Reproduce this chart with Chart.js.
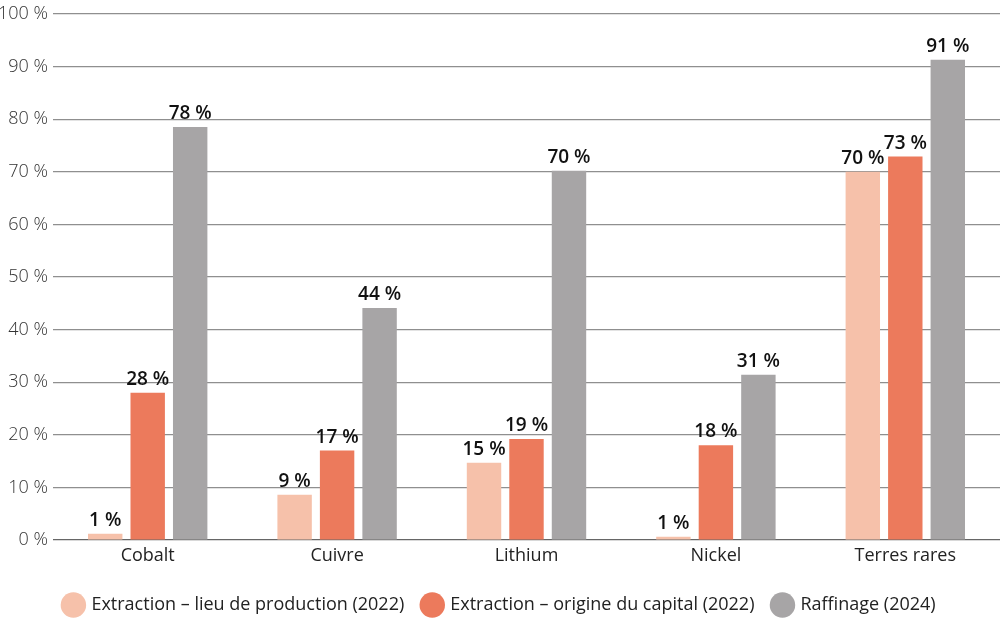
<!DOCTYPE html>
<html>
<head>
<meta charset="utf-8">
<script src="https://cdn.jsdelivr.net/npm/chart.js@4"></script>
<style>
    html, body { margin: 0; padding: 0; background: #fff; }
    #wrap { width: 1000px; height: 619px; }
</style>
</head>
<body>
<div id="wrap"><canvas id="chart"></canvas></div>
<script>
/* Part de la Chine par minerai : extraction (lieu / capital) et raffinage. */

const categories = ['Cobalt', 'Cuivre', 'Lithium', 'Nickel', 'Terres rares'];
const seriesNames = [
    'Extraction \u2013 lieu de production (2022)',
    'Extraction \u2013 origine du capital (2022)',
    'Raffinage (2024)'
];
const lieuProduction = [1.2, 8.6, 14.7, 0.6, 70];
const origineCapital = [28, 17, 19.2, 18, 72.9];
const raffinage = [78.5, 44.1, 70.2, 31.4, 91.3];
// labels as printed on the chart (rounded)
const lieuLabels = ['1', '9', '15', '1', '70'];
const capitalLabels = ['28', '17', '19', '18', '73'];
const raffinageLabels = ['78', '44', '70', '31', '91'];
const yTicks = [0, 10, 20, 30, 40, 50, 60, 70, 80, 90, 100];

const colors = ['#F6C1AA', '#EC7A5C', '#A7A5A6'];
const fontFamily = "'Open Sans', 'DejaVu Sans', sans-serif";

const valueLabels = {
    id: 'valueLabels',
    afterDatasetsDraw(chart) {
        const ctx = chart.ctx;
        ctx.save();
        ctx.font = `600 19px ${fontFamily}`;
        ctx.fillStyle = '#111';
        ctx.textAlign = 'center';
        ctx.textBaseline = 'alphabetic';
        chart.data.datasets.forEach((ds, i) => {
            chart.getDatasetMeta(i).data.forEach((bar, j) => {
                ctx.fillText(ds.labels[j] + ' %', bar.x, bar.y - 8);
            });
        });
        ctx.restore();
    }
};

new Chart(document.getElementById('chart'), {
    type: 'bar',
    data: {
        labels: categories,
        datasets: [
            { label: seriesNames[0], data: lieuProduction, labels: lieuLabels, backgroundColor: colors[0] },
            { label: seriesNames[1], data: origineCapital, labels: capitalLabels, backgroundColor: colors[1] },
            { label: seriesNames[2], data: raffinage, labels: raffinageLabels, backgroundColor: colors[2] }
        ]
    },
    options: {
        responsive: true,
        maintainAspectRatio: false,
        animation: false,
        layout: { padding: { top: 12, right: 0, left: 0, bottom: -5 } },
        datasets: { bar: { barPercentage: 0.81, categoryPercentage: 0.673, borderWidth: 0 } },
        scales: {
            x: {
                afterFit: s => { s.height = 37; },
                grid: { display: false, drawTicks: false },
                border: { display: false },
                ticks: { color: '#222', font: { family: fontFamily, size: 18 }, padding: 5 }
            },
            y: {
                min: 0, max: 100,
                afterFit: s => { s.width = 53; },
                afterBuildTicks: s => { s.ticks = yTicks.map(v => ({ value: v })); },
                grid: {
                    color: ctx => ctx.tick.value === 0 ? '#666' : '#8f8f8f',
                    lineWidth: 1.2,
                    drawTicks: false
                },
                border: { display: false },
                ticks: {
                    color: '#333',
                    font: { family: fontFamily, size: 18, weight: '300', lineHeight: 1 },
                    padding: 5,
                    callback: v => v + ' %'
                }
            }
        },
        plugins: {
            legend: {
                position: 'bottom',
                labels: {
                    usePointStyle: true,
                    pointStyle: 'circle',
                    boxWidth: 26,
                    boxHeight: 26,
                    padding: 19,
                    color: '#222',
                    font: { family: fontFamily, size: 18 }
                }
            },
            tooltip: { enabled: false }
        }
    },
    plugins: [valueLabels]
});
</script>
</body>
</html>
